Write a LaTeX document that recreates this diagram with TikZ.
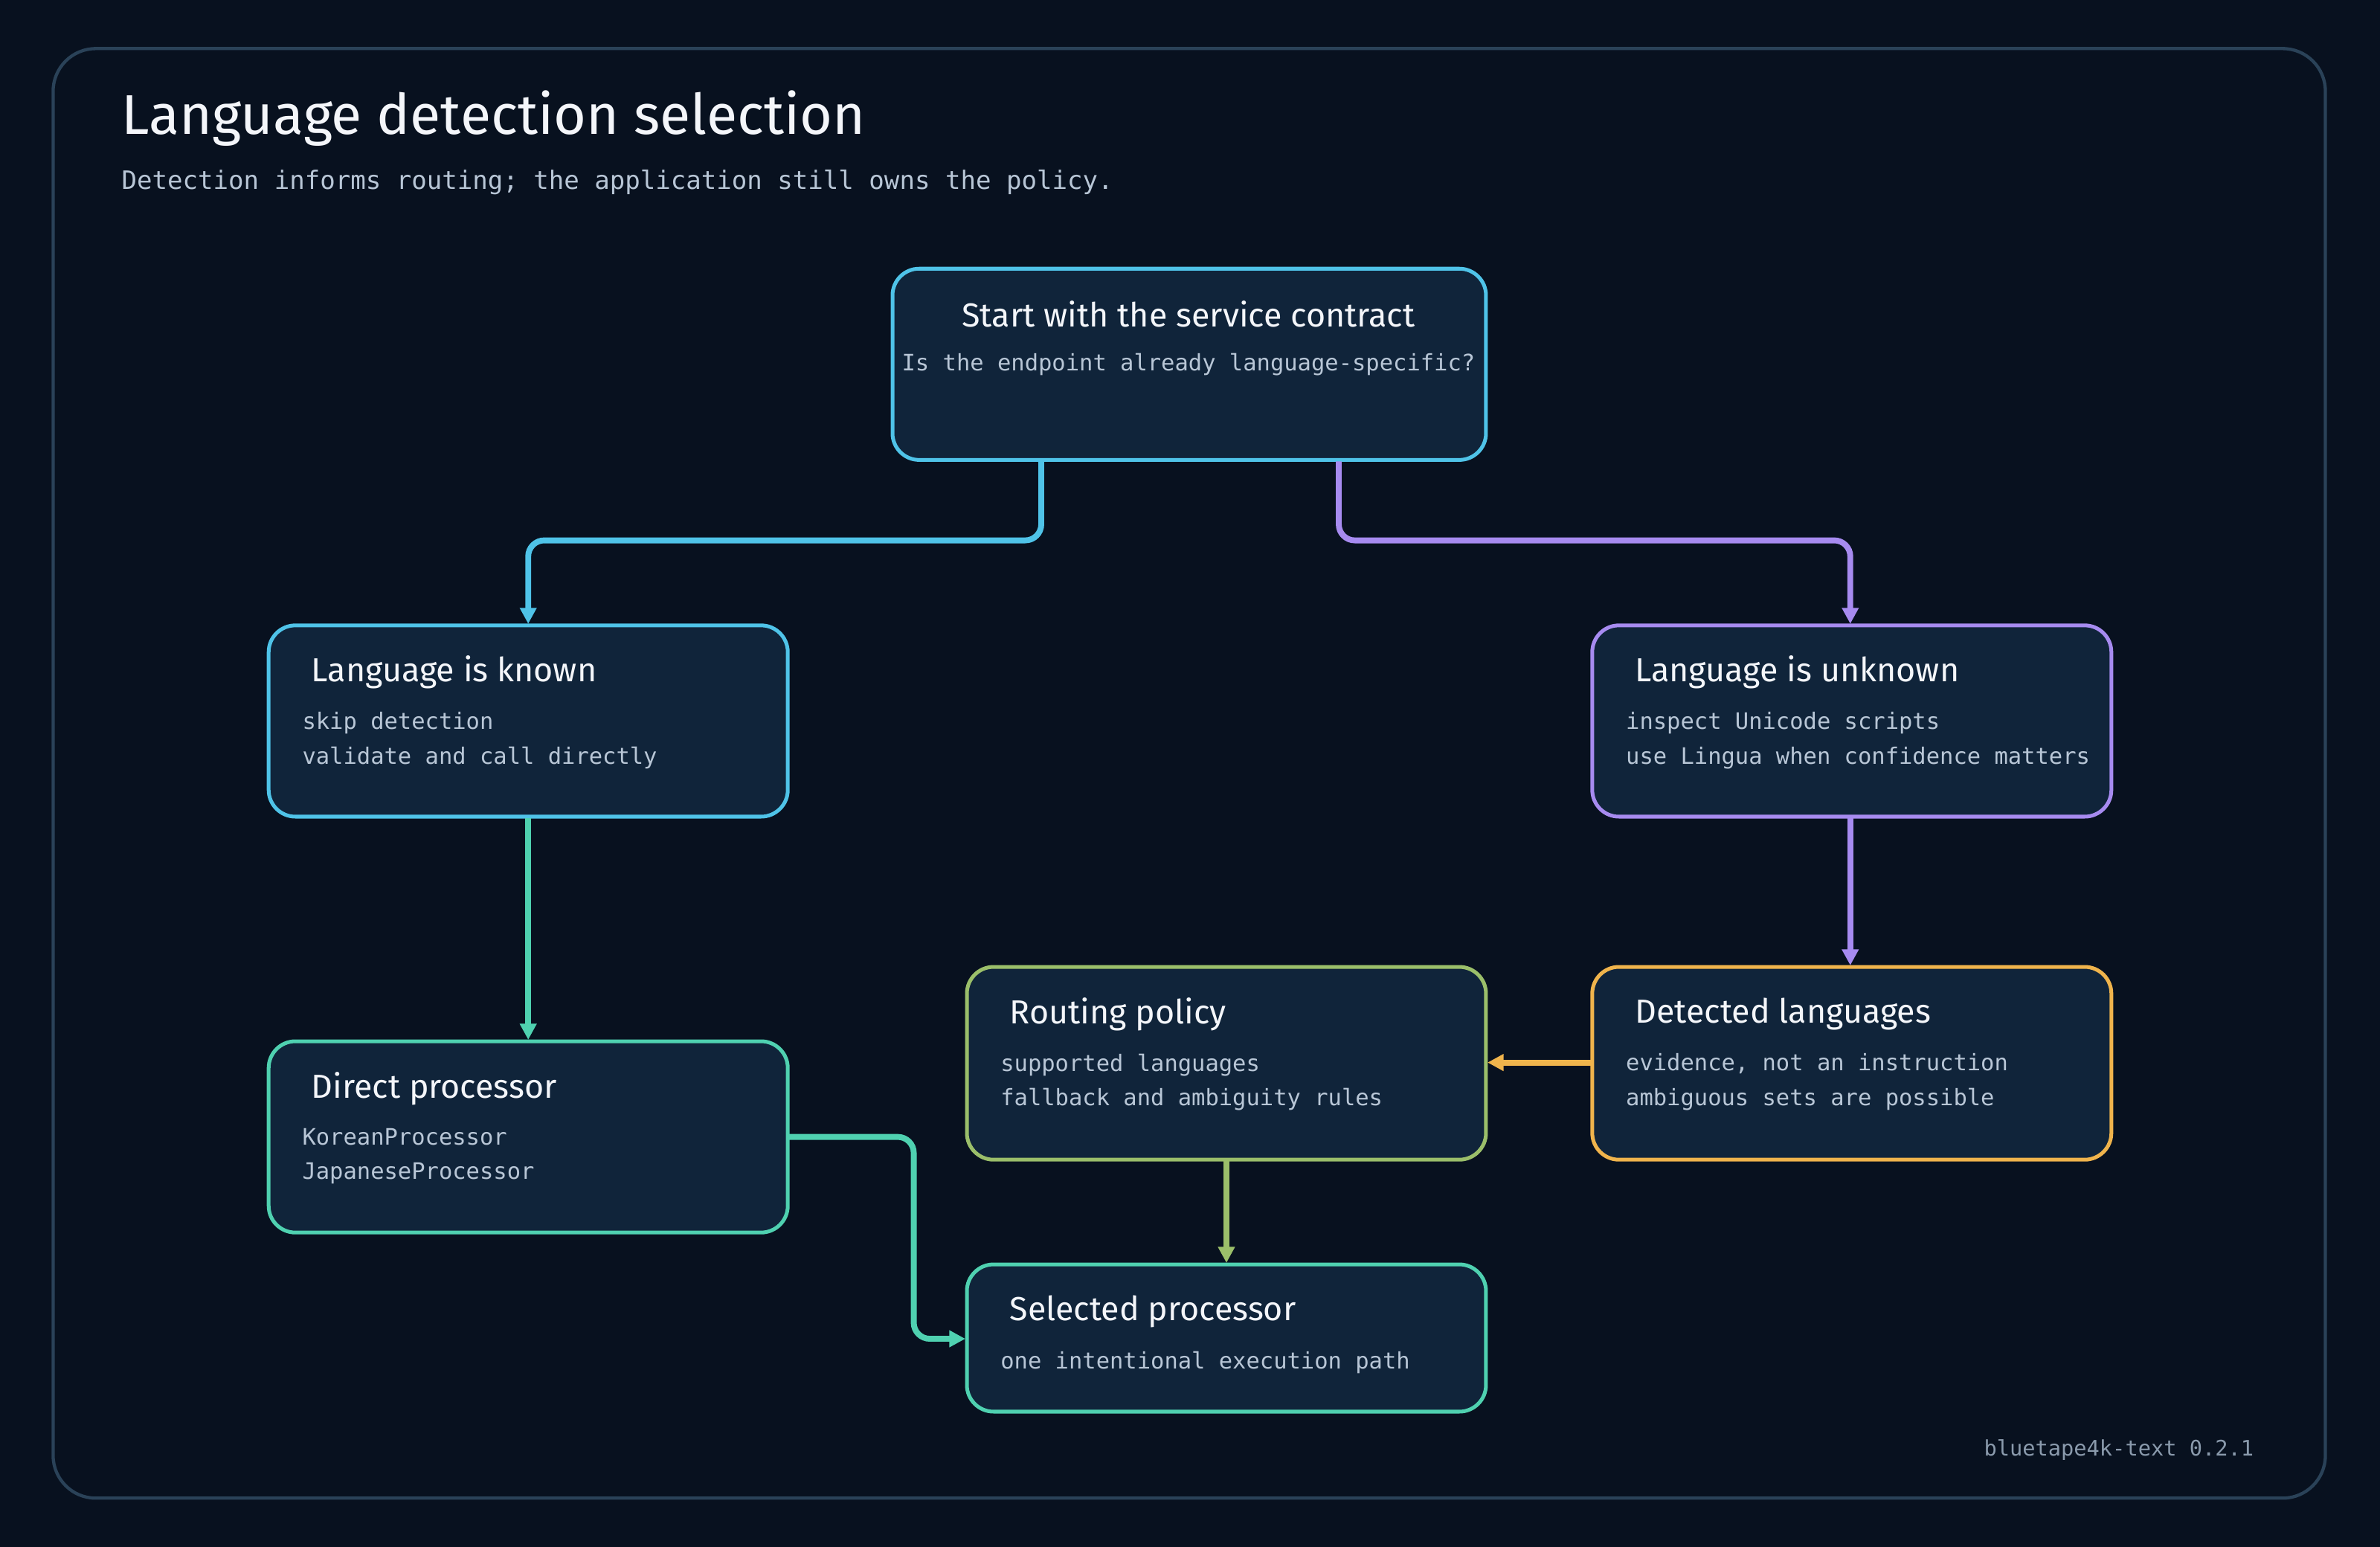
\documentclass[tikz,border=0pt]{standalone}
\usepackage{fontspec}
\setmainfont{Fira Sans}
\newfontfamily\mono{DejaVu Sans Mono}
\usetikzlibrary{arrows.meta}
\definecolor{bg}{HTML}{08111F}
\definecolor{frame}{HTML}{2A4258}
\definecolor{nfill}{HTML}{10243A}
\definecolor{cyan}{HTML}{4FC3E8}
\definecolor{purp}{HTML}{A78BF0}
\definecolor{teal}{HTML}{4FD1B0}
\definecolor{grn}{HTML}{9BBF6A}
\definecolor{org}{HTML}{F0B44C}
\definecolor{ttl}{HTML}{F4F6FA}
\definecolor{sub}{HTML}{B8C6D6}
\definecolor{foot}{HTML}{8A9AAC}
\begin{document}
\begin{tikzpicture}[x=0.02cm,y=-0.02cm,
 box/.style={draw=#1,line width=1.4pt,fill=nfill,rounded corners=10pt},
 nt/.style={anchor=west,text=ttl,font=\fontsize{12.5}{14}\selectfont},
 nb/.style={anchor=north west,text=sub,font=\mono\fontsize{8.5}{13}\selectfont,align=left},
 con/.style={draw=#1,line width=2.2pt,rounded corners=6pt,-{Triangle[length=6pt,width=6pt]}}]
\fill[bg] (0,0) rectangle (1568,1019);
\draw[frame,line width=1.2pt,rounded corners=16pt] (35,32) rectangle (1532,987);
\node[anchor=west,text=ttl,font=\fontsize{21}{24}\selectfont] (title) at (74,78) {Language detection selection};
\node[anchor=west,text=sub,font=\mono\fontsize{9.5}{12}\selectfont] (subt) at (74,120) {Detection informs routing; the application still owns the policy.};
% nodes
\draw[box=cyan] (588,177) rectangle (979,303) coordinate[pos=0.5] (s);
\node[text=ttl,font=\fontsize{12.5}{14}\selectfont] (st) at (783,207) {Start with the service contract};
\node[text=sub,font=\mono\fontsize{8.5}{12}\selectfont] (ss) at (783,240) {Is the endpoint already language-specific?};
\draw[box=cyan] (177,412) rectangle (519,538);
\node[nt] (kt) at (199,443) {Language is known};
\node[nb] (kb) at (193,463) {skip detection\\validate and call directly};
\draw[box=purp] (1049,412) rectangle (1391,538);
\node[nt] (ut) at (1071,443) {Language is unknown};
\node[nb] (ub) at (1065,463) {inspect Unicode scripts\\use Lingua when confidence matters};
\draw[box=teal] (177,686) rectangle (519,812);
\node[nt] (dt) at (199,717) {Direct processor};
\node[nb] (db) at (193,737) {KoreanProcessor\\JapaneseProcessor};
\draw[box=grn] (637,637) rectangle (979,764);
\node[nt] (rt) at (659,668) {Routing policy};
\node[nb] (rb) at (653,688) {supported languages\\fallback and ambiguity rules};
\draw[box=org] (1049,637) rectangle (1391,764);
\node[nt] (det) at (1071,668) {Detected languages};
\node[nb] (deb) at (1065,688) {evidence, not an instruction\\ambiguous sets are possible};
\draw[box=teal] (637,833) rectangle (979,930);
\node[nt] (selt) at (659,864) {Selected processor};
\node[nb] (selb) at (653,884) {one intentional execution path};
\node[anchor=east,text=foot,font=\mono\fontsize{8}{10}\selectfont] (ver) at (1491,955) {bluetape4k-text 0.2.1};
% anchor coordinates
\coordinate (sA) at (686,304); \coordinate (sB) at (882,304);
\coordinate (kT) at (348,411); \coordinate (kB) at (348,539);
\coordinate (uT) at (1219,411); \coordinate (uB) at (1219,539);
\coordinate (dT) at (348,685); \coordinate (dR) at (520,749);
\coordinate (rR) at (980,700); \coordinate (rB) at (808,765);
\coordinate (deL) at (1048,700); \coordinate (deT) at (1219,636);
\coordinate (seT) at (808,832); \coordinate (seL) at (636,882);
% connectors
\draw[con=cyan] (sA) |- (517,356) -| (kT);
\draw[con=purp] (sB) |- (1050,356) -| (uT);
\draw[con=teal] (kB) -- (dT);
\draw[con=purp] (uB) -- (deT);
\draw[con=org] (deL) -- (rR);
\draw[con=grn] (rB) -- (seT);
\draw[con=teal] (dR) -| (602,815) |- (seL);
\end{tikzpicture}
\end{document}
